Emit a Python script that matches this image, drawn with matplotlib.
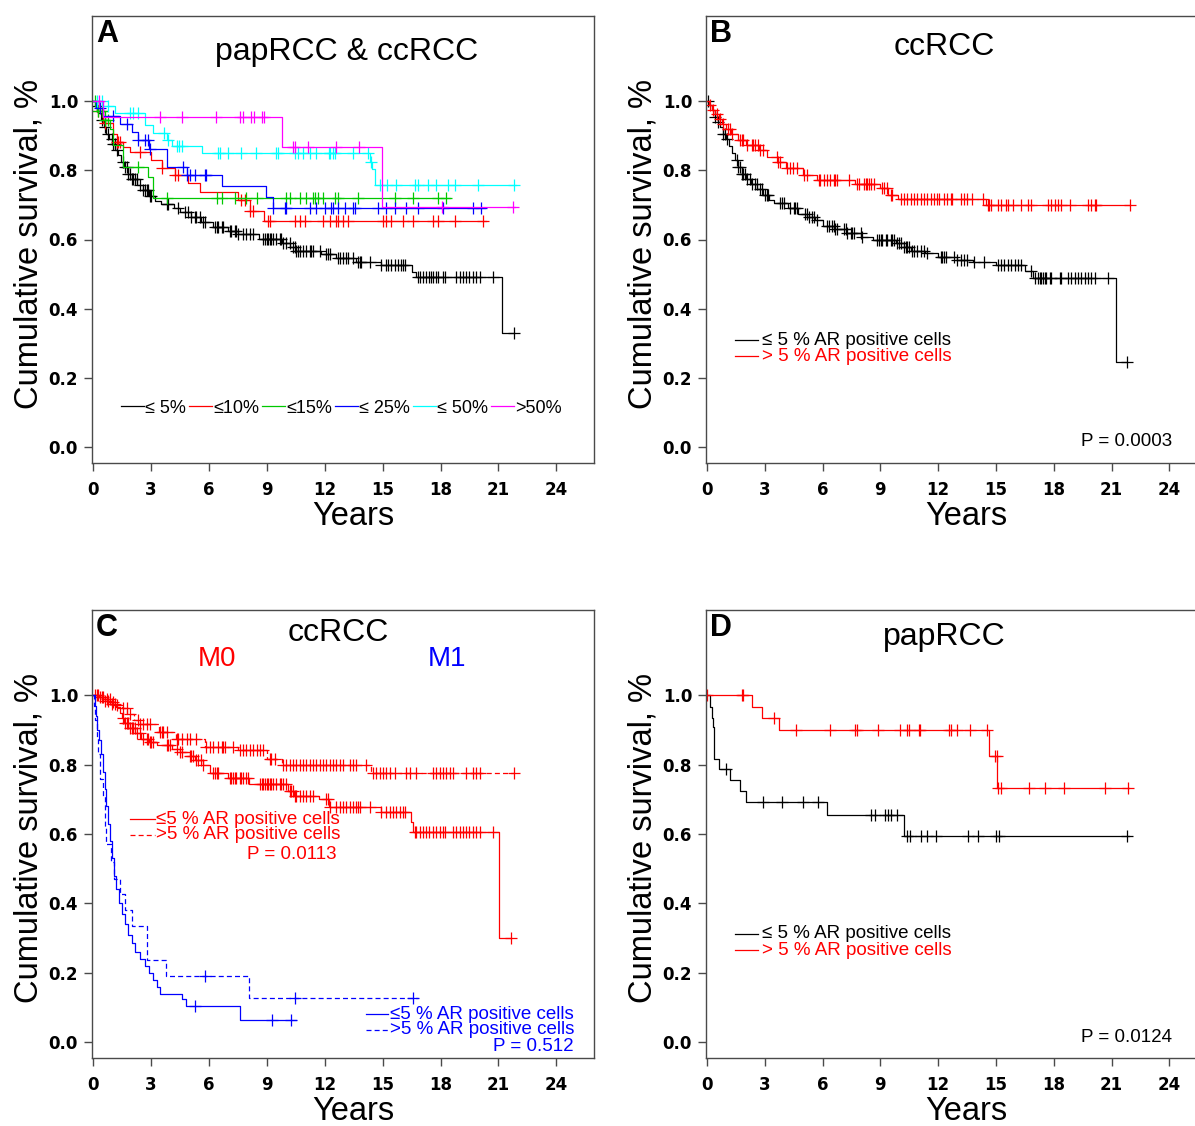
import numpy as np
import matplotlib
matplotlib.use("Agg")
import matplotlib.pyplot as plt

plt.rcParams["font.family"] = ["Liberation Sans", "DejaVu Sans"]

# ---------------- data (event times / survival after event, censor times) ----------------
# Panel A: papRCC & ccRCC by % AR positive cells
a_black_t = [0.1, 0.25, 0.4, 0.55, 0.7, 0.85, 1.0, 1.15, 1.3, 1.45, 1.6, 1.8, 2.0, 2.3, 2.6, 2.9,
             3.2, 3.5, 4.2, 4.5, 5.1, 5.6, 6.2, 7.0, 7.5, 8.6, 9.8, 10.2, 10.5, 11.8, 12.6, 13.6,
             14.9, 16.5, 16.75, 21.2]
a_black_s = [0.985, 0.965, 0.945, 0.925, 0.905, 0.89, 0.875, 0.86, 0.845, 0.825, 0.81, 0.79, 0.775,
             0.758, 0.743, 0.725, 0.712, 0.704, 0.692, 0.68, 0.665, 0.652, 0.637, 0.625, 0.615,
             0.601, 0.589, 0.578, 0.568, 0.558, 0.546, 0.536, 0.526, 0.507, 0.492, 0.33]
a_black_c = [0.19, 0.45, 0.62, 0.79, 0.97, 1.05, 1.14, 1.22, 1.57, 1.66, 1.74, 1.83, 1.91, 2.0,
             2.09, 2.17, 2.26, 2.43, 2.6, 2.69, 2.78, 2.86, 2.95, 3.03, 3.81, 3.9, 4.41, 4.76, 4.93,
             5.1, 5.28, 5.36, 5.53, 5.71, 5.79, 6.31, 6.4, 6.48, 6.66, 6.74, 7.09, 7.17, 7.35, 7.43,
             7.52, 7.78, 7.95, 8.12, 8.29, 8.81, 8.9, 8.99, 9.07, 9.16, 9.24, 9.33, 9.5, 9.67, 9.76,
             9.85, 10.02, 10.19, 10.36, 10.45, 10.54, 10.62, 10.71, 10.88, 11.05, 11.23, 11.31,
             11.4, 11.75, 12.09, 12.17, 12.26, 12.69, 12.78, 12.95, 13.12, 13.21, 13.47, 13.73,
             13.81, 13.9, 14.33, 14.94, 15.19, 15.28, 15.45, 15.62, 15.8, 15.97, 16.06, 16.14,
             16.83, 16.92, 17.09, 17.26, 17.43, 17.52, 17.61, 17.78, 17.86, 18.12, 18.21, 18.81,
             18.99, 19.16, 19.33, 19.5, 19.68, 19.85, 20.02, 20.71, 21.8]
a_black_end = 21.8

a_red_t = [0.19, 0.53, 1.05, 1.22, 1.57, 1.91, 3.03, 3.55, 4.24, 4.93, 5.53, 7.52, 8.12, 8.85]
a_red_s = [0.97, 0.937, 0.906, 0.882, 0.868, 0.853, 0.83, 0.808, 0.786, 0.762, 0.738, 0.714,
           0.683, 0.654]
a_red_c = [0.28, 0.45, 0.62, 1.22, 1.31, 1.4, 2.43, 3.55, 4.24, 4.41, 7.69, 7.86, 8.12, 8.29,
           9.07, 9.16, 10.45, 10.71, 10.97, 11.92, 12.26, 12.6, 12.69, 12.95, 13.21, 15.02, 15.19,
           15.45, 16.05, 16.57, 17.6, 17.86, 18.73, 20.2]
a_red_end = 20.37

a_green_t = [0.2, 0.6, 0.9, 1.05, 1.57, 2.86, 3.12]
a_green_s = [0.97, 0.945, 0.92, 0.873, 0.81, 0.781, 0.721]
a_green_c = [0.1, 0.28, 0.45, 0.62, 0.79, 2.35, 3.81, 6.4, 6.66, 7.35, 7.95, 8.47, 10.02, 10.19,
             10.71, 11.05, 11.4, 11.49, 11.66, 11.92, 12.52, 12.69, 13.73, 15.62, 16.57, 17.86,
             18.29]
a_green_end = 18.47

a_blue_t = [0.15, 0.5, 1.4, 2.0, 2.35, 2.9, 3.85, 4.85, 6.66, 8.98, 9.3]
a_blue_s = [0.98, 0.956, 0.935, 0.911, 0.887, 0.863, 0.81, 0.786, 0.754, 0.723, 0.69]
a_blue_c = [0.36, 1.05, 1.74, 2.35, 2.69, 2.86, 2.95, 4.67, 4.85, 5.02, 5.28, 5.79, 5.88, 9.33,
            9.93, 10.02, 11.23, 11.57, 12.0, 12.35, 12.43, 12.69, 13.04, 13.47, 13.55, 14.76,
            15.19, 15.62, 16.23, 16.83, 18.12, 19.68, 20.11]
a_blue_end = 20.28

a_cyan_t = [0.5, 1.14, 2.69, 3.12, 3.85, 4.07, 5.67, 14.33, 14.47, 14.59]
a_cyan_s = [0.985, 0.966, 0.93, 0.909, 0.889, 0.87, 0.849, 0.825, 0.805, 0.757]
a_cyan_c = [0.19, 0.45, 0.79, 1.91, 2.05, 2.35, 3.67, 3.9, 4.33, 4.47, 4.59, 6.48, 6.6, 7.0,
            7.69, 8.43, 9.5, 9.59, 10.45, 10.62, 10.88, 11.23, 11.57, 12.23, 12.3, 12.43, 12.52,
            13.47, 14.24, 14.42, 14.85, 15.24, 15.71, 16.66, 16.83, 17.35, 17.78, 18.38, 18.73,
            19.93, 21.83]
a_cyan_end = 21.9

a_mag_t = [0.53, 9.81, 14.99]
a_mag_s = [0.955, 0.868, 0.695]
a_mag_c = [0.33, 3.47, 4.59, 6.36, 7.64, 7.78, 8.21, 8.33, 8.73, 8.85, 10.36, 10.45, 11.14,
           12.6, 13.78, 18.1, 21.75]
a_mag_end = 21.85

a_labels = ["\u2264 5%", "\u226410%", "\u226415%", "\u2264 25%", "\u2264 50%", ">50%"]

# Panel B: ccRCC, <=5 % vs >5 % AR positive cells
b_black_t = [0.1, 0.25, 0.4, 0.55, 0.7, 0.85, 1.0, 1.15, 1.3, 1.45, 1.6, 1.8, 2.0, 2.3, 2.6, 2.9,
             3.2, 3.5, 4.2, 4.7, 5.2, 5.6, 6.0, 6.6, 7.2, 8.0, 8.6, 9.8, 10.2, 10.6, 11.3, 12.0,
             13.0, 13.8, 15.0, 16.5, 16.9, 21.25]
b_black_s = [0.99, 0.975, 0.955, 0.94, 0.925, 0.905, 0.89, 0.87, 0.85, 0.83, 0.81, 0.79, 0.775,
             0.76, 0.745, 0.73, 0.715, 0.705, 0.69, 0.675, 0.665, 0.655, 0.64, 0.63, 0.62, 0.608,
             0.598, 0.59, 0.578, 0.568, 0.56, 0.55, 0.54, 0.535, 0.526, 0.51, 0.49, 0.245]
b_black_c = [0.07, 0.42, 0.59, 0.85, 0.94, 1.02, 1.55, 1.63, 1.72, 1.81, 1.89, 1.98, 2.07, 2.24,
             2.33, 2.5, 2.59, 2.76, 2.85, 3.02, 3.11, 3.19, 3.8, 3.89, 3.98, 4.32, 4.5, 4.58, 4.67,
             5.1, 5.19, 5.28, 5.45, 5.54, 5.71, 6.23, 6.32, 6.49, 6.58, 6.67, 6.75, 7.1, 7.19,
             7.27, 7.45, 7.53, 7.62, 7.97, 8.06, 8.84, 8.92, 9.01, 9.1, 9.27, 9.36, 9.53, 9.62,
             9.71, 9.88, 9.97, 10.05, 10.23, 10.31, 10.4, 10.49, 10.66, 10.75, 10.92, 11.09,
             11.27, 11.44, 12.14, 12.22, 12.31, 12.4, 12.83, 13.0, 13.18, 13.35, 13.52, 13.87,
             14.39, 15.09, 15.26, 15.43, 15.61, 15.78, 15.96, 16.13, 16.3, 16.82, 17.0, 17.17,
             17.26, 17.34, 17.43, 17.52, 17.6, 17.78, 17.86, 18.3, 18.39, 18.73, 18.91, 19.08,
             19.25, 19.43, 19.6, 19.78, 19.95, 20.12, 20.82, 21.8]
b_black_end = 21.8

b_red_t = [0.1, 0.25, 0.4, 0.6, 0.8, 1.0, 1.25, 1.6, 2.0, 2.7, 3.1, 3.7, 4.1, 5.0, 5.7, 7.7, 9.0,
           9.4, 9.9, 14.5]
b_red_s = [0.99, 0.975, 0.962, 0.948, 0.935, 0.92, 0.905, 0.887, 0.873, 0.859, 0.839, 0.825,
           0.806, 0.787, 0.772, 0.76, 0.748, 0.728, 0.718, 0.699]
b_red_c = [0.16, 0.33, 0.5, 0.68, 0.85, 1.11, 1.2, 1.29, 1.72, 1.81, 1.89, 2.07, 2.33, 2.41, 2.5,
           2.67, 2.76, 2.93, 3.63, 3.71, 3.8, 4.15, 4.32, 4.49, 4.67, 5.02, 5.19, 5.8, 5.89, 6.06,
           6.23, 6.41, 6.58, 6.67, 6.76, 7.36, 7.8, 7.88, 8.14, 8.23, 8.32, 8.4, 8.49, 8.66, 9.1,
           9.18, 9.36, 9.53, 9.62, 10.05, 10.23, 10.4, 10.57, 10.75, 10.92, 11.09, 11.27, 11.44,
           11.61, 11.79, 11.96, 12.05, 12.31, 12.48, 12.66, 12.74, 13.18, 13.35, 13.52, 13.78,
           14.3, 14.57, 14.65, 14.74, 15.09, 15.26, 15.52, 15.61, 15.87, 16.3, 16.65, 16.82,
           17.7, 17.86, 18.04, 18.21, 18.39, 18.82, 19.78, 19.95, 20.12, 20.21, 21.94]
b_red_end = 21.94

# Panel C: ccRCC split by M0 (red) and M1 (blue)
c_m0_low_t = [0.3, 0.6, 0.9, 1.2, 1.4, 1.5, 1.6, 1.9, 2.2, 2.5, 2.9, 3.3, 4.1, 4.5, 5.0, 5.3, 5.7,
              6.05, 7.0, 8.1, 10.1, 10.4, 11.7, 12.2, 14.9, 16.45, 16.55, 21.05]
c_m0_low_s = [0.995, 0.985, 0.975, 0.965, 0.95, 0.935, 0.92, 0.905, 0.89, 0.875, 0.865, 0.856,
              0.845, 0.837, 0.825, 0.813, 0.8, 0.775, 0.762, 0.743, 0.725, 0.71, 0.7, 0.677,
              0.663, 0.634, 0.605, 0.30]
c_m0_low_c = [0.1, 0.28, 0.45, 0.62, 0.79, 0.97, 1.14, 1.57, 1.66, 1.74, 1.83, 1.91, 2.0, 2.09,
              2.17, 2.26, 2.43, 2.6, 2.78, 2.86, 2.95, 3.03, 3.12, 3.81, 3.9, 3.98, 4.33, 4.5,
              4.59, 5.02, 5.1, 5.19, 5.36, 5.45, 5.62, 5.71, 6.22, 6.31, 6.4, 6.48, 7.09, 7.17,
              7.26, 7.35, 7.43, 7.6, 7.69, 7.78, 7.95, 8.04, 8.64, 8.73, 8.81, 8.9, 8.99, 9.07,
              9.16, 9.24, 9.33, 9.5, 9.67, 9.76, 9.85, 10.02, 10.19, 10.28, 10.36, 10.45, 10.54,
              10.71, 10.88, 11.05, 11.23, 11.4, 12.09, 12.17, 12.26, 12.6, 12.78, 12.95, 13.12,
              13.3, 13.47, 13.64, 13.73, 13.81, 14.33, 14.94, 15.19, 15.37, 15.54, 15.71, 15.88,
              16.06, 16.14, 16.66, 16.75, 16.92, 17.09, 17.26, 17.43, 17.61, 17.78, 17.95, 18.12,
              18.21, 18.64, 18.81, 18.99, 19.16, 19.33, 19.5, 19.68, 19.85, 20.02, 20.71, 21.66]
c_m0_low_end = 21.66

c_m0_high_t = [0.3, 0.6, 0.9, 1.2, 1.5, 1.75, 2.1, 2.43, 3.4, 4.3, 5.8, 7.5, 9.0, 9.8, 14.4]
c_m0_high_s = [0.995, 0.99, 0.982, 0.973, 0.962, 0.947, 0.93, 0.918, 0.894, 0.875, 0.85, 0.841,
               0.817, 0.798, 0.776]
c_m0_high_c = [0.19, 0.36, 0.53, 0.71, 0.88, 1.05, 1.22, 1.57, 1.74, 1.91, 2.35, 2.43, 2.6, 2.78,
               2.95, 3.47, 3.55, 3.64, 3.81, 4.33, 4.41, 4.59, 4.85, 5.02, 5.36, 5.88, 6.05, 6.22,
               6.48, 6.66, 6.74, 6.83, 7.26, 7.6, 7.78, 7.95, 8.12, 8.29, 8.47, 8.64, 8.81, 9.16,
               9.24, 9.42, 9.85, 10.02, 10.19, 10.36, 10.54, 10.71, 10.88, 11.05, 11.23, 11.4,
               11.57, 11.75, 11.92, 12.09, 12.26, 12.43, 12.6, 12.78, 12.95, 13.3, 13.47, 13.64,
               14.16, 14.5, 14.68, 14.85, 15.02, 15.19, 15.37, 15.62, 16.23, 16.4, 16.75, 17.61,
               17.78, 17.95, 18.12, 18.3, 18.47, 18.64, 19.33, 19.68, 19.85, 20.02, 21.83]
c_m0_high_end = 21.83

c_m1_low_t = [0.08, 0.15, 0.22, 0.3, 0.4, 0.5, 0.6, 0.7, 0.8, 0.9, 1.0, 1.1, 1.2, 1.35, 1.5, 1.65,
              1.8, 2.0, 2.2, 2.45, 2.7, 2.9, 3.1, 3.3, 3.45, 4.6, 4.8, 7.6]
c_m1_low_s = [0.97, 0.94, 0.9, 0.87, 0.83, 0.78, 0.73, 0.68, 0.63, 0.58, 0.53, 0.48, 0.44, 0.4,
              0.37, 0.34, 0.31, 0.285, 0.26, 0.24, 0.22, 0.2, 0.18, 0.16, 0.14, 0.123, 0.104,
              0.063]
c_m1_low_c = [5.28, 9.29, 10.28]
c_m1_low_end = 10.54

c_m1_high_t = [0.05, 0.12, 0.2, 0.28, 0.38, 0.5, 0.6, 0.7, 0.95, 1.1, 1.4, 1.65, 2.0, 2.78, 3.8,
               8.1]
c_m1_high_s = [0.97, 0.93, 0.88, 0.83, 0.76, 0.71, 0.62, 0.57, 0.52, 0.47, 0.428, 0.38, 0.334,
               0.238, 0.19, 0.128]
c_m1_high_c = [5.79, 10.45, 16.57]
c_m1_high_end = 16.83

# Panel D: papRCC
d_black_t = [0.17, 0.25, 0.3, 0.35, 0.38, 0.6, 1.2, 1.7, 2.0, 6.23, 10.2]
d_black_s = [0.966, 0.935, 0.909, 0.86, 0.817, 0.788, 0.757, 0.724, 0.692, 0.654, 0.594]
d_black_c = [0.99, 2.93, 3.89, 4.98, 5.76, 8.49, 8.7, 9.22, 9.39, 9.57, 9.84, 10.4, 10.54, 11.1,
             11.41, 11.88, 13.56, 14.05, 15.0, 15.14, 21.82]
d_black_end = 21.9

d_red_t = [2.33, 2.85, 3.75, 14.65, 15.05]
d_red_s = [0.966, 0.934, 0.9, 0.826, 0.734]
d_red_c = [0.02, 1.81, 1.89, 3.49, 4.62, 6.37, 7.66, 7.8, 8.89, 10.02, 10.37, 10.5, 11.0, 11.06,
           12.57, 12.64, 13.0, 13.66, 14.52, 14.97, 15.04, 15.09, 15.26, 16.7, 17.52, 18.51,
           20.64, 21.86]
d_red_end = 21.9

x_ticks = [0, 3, 6, 9, 12, 15, 18, 21, 24]
y_ticks = [0.0, 0.2, 0.4, 0.6, 0.8, 1.0]

RED = "#ff0000"
GREEN = "#00c800"
BLUE = "#0000ff"
CYAN = "#00ffff"
MAGENTA = "#ff00ff"
FRAME = "#4a4a4a"


def km(ax, ev_t, ev_s, cens, end, color, dashed=False, label=None):
    ev_t = np.asarray(ev_t)
    ev_s = np.asarray(ev_s)
    xs = np.r_[0.0, ev_t, end]
    ys = np.r_[1.0, ev_s, ev_s[-1]]
    ls = (0, (4, 2.5)) if dashed else "-"
    (line,) = ax.step(xs, ys, where="post", color=color, lw=0.9, ls=ls, label=label)
    idx = np.searchsorted(ev_t, cens, side="right")
    ax.plot(cens, np.r_[1.0, ev_s][idx], ls="none", marker="+", ms=8, mew=0.9, color=color)
    return line


def style(ax, letter, title, title_xy, title_size=23):
    ax.set_xlim(-0.05, 25.95)
    ax.set_ylim(-0.046, 1.246)
    ax.set_xticks(x_ticks)
    ax.set_xticklabels([str(v) for v in x_ticks], fontweight="bold", family="DejaVu Sans",
                       fontsize=12)
    ax.set_yticks(y_ticks)
    ax.set_yticklabels([f"{v:.1f}" for v in y_ticks], fontweight="bold", family="DejaVu Sans",
                       fontsize=12)
    ax.tick_params(direction="out", length=6, width=1, color=FRAME)
    ax.tick_params(axis="x", pad=7)
    ax.tick_params(axis="y", pad=4)
    for sp in ax.spines.values():
        sp.set_color(FRAME)
        sp.set_linewidth(1)
    ax.set_xlabel("Years", fontsize=23.5)
    ax.xaxis.set_label_coords(0.52, -0.12)
    ax.xaxis.label.set_va("center")
    ax.set_ylabel("Cumulative survival, %", fontsize=23.5)
    ax.yaxis.set_label_coords(-0.125, 0.49)
    ax.yaxis.label.set_va("center")
    ax.text(0.008, 0.993, letter, transform=ax.transAxes, ha="left", va="top",
            fontsize=22, fontweight="bold")
    ax.text(title_xy[0], title_xy[1], title, transform=ax.transAxes, ha="center",
            va="center", fontsize=title_size)


def legend_rows(ax, rows, x_line, x_text, ha="left", size=13.5):
    for y, color, dashed, text in rows:
        if dashed is not None:
            ax.plot(x_line, [y, y], transform=ax.transAxes, color=color, lw=0.9,
                    ls=(0, (4, 2.5)) if dashed else "-")
        ax.text(x_text, y, text, transform=ax.transAxes, ha=ha, va="center",
                color=color, fontsize=size)


W, H = 1195, 1126
fig = plt.figure(figsize=(W / 100, H / 100), dpi=100)


def box(left, top, right, bottom):
    return [left / W, (H - bottom) / H, (right - left) / W, (bottom - top) / H]


ax_a = fig.add_axes(box(92, 16, 594, 463))
ax_b = fig.add_axes(box(706, 16, 1207, 463))
ax_c = fig.add_axes(box(92, 610, 594, 1058))
ax_d = fig.add_axes(box(706, 610, 1207, 1058))

# ---- A ----
lines = [
    km(ax_a, a_black_t, a_black_s, a_black_c, a_black_end, "black"),
    km(ax_a, a_red_t, a_red_s, a_red_c, a_red_end, RED),
    km(ax_a, a_green_t, a_green_s, a_green_c, a_green_end, GREEN),
    km(ax_a, a_blue_t, a_blue_s, a_blue_c, a_blue_end, BLUE),
    km(ax_a, a_cyan_t, a_cyan_s, a_cyan_c, a_cyan_end, CYAN),
    km(ax_a, a_mag_t, a_mag_s, a_mag_c, a_mag_end, MAGENTA),
]
style(ax_a, "A", "papRCC & ccRCC", (0.508, 0.919))
ax_a.legend(lines, a_labels, ncol=6, frameon=False, loc="center",
            bbox_to_anchor=(0.497, 0.123), handlelength=1.25, handletextpad=0.1,
            columnspacing=0.15, fontsize=13, borderaxespad=0)

# ---- B ----
km(ax_b, b_black_t, b_black_s, b_black_c, b_black_end, "black")
km(ax_b, b_red_t, b_red_s, b_red_c, b_red_end, RED)
style(ax_b, "B", "ccRCC", (0.475, 0.931))
legend_rows(ax_b, [(0.275, "black", False, "\u2264 5 % AR positive cells"),
                   (0.239, RED, False, "> 5 % AR positive cells")],
            [0.058, 0.104], 0.112)
ax_b.text(0.93, 0.049, "P = 0.0003", transform=ax_b.transAxes, ha="right", va="center",
          fontsize=13.5)

# ---- C ----
km(ax_c, c_m0_low_t, c_m0_low_s, c_m0_low_c, c_m0_low_end, RED)
km(ax_c, c_m0_high_t, c_m0_high_s, c_m0_high_c, c_m0_high_end, RED, dashed=True)
km(ax_c, c_m1_low_t, c_m1_low_s, c_m1_low_c, c_m1_low_end, BLUE)
km(ax_c, c_m1_high_t, c_m1_high_s, c_m1_high_c, c_m1_high_end, BLUE, dashed=True)
style(ax_c, "C", "ccRCC", (0.49, 0.949))
ax_c.text(0.249, 0.891, "M0", transform=ax_c.transAxes, ha="center", va="center",
          color=RED, fontsize=20)
ax_c.text(0.707, 0.891, "M1", transform=ax_c.transAxes, ha="center", va="center",
          color=BLUE, fontsize=20)
legend_rows(ax_c, [(0.533, RED, False, "\u22645 % AR positive cells"),
                   (0.498, RED, True, ">5 % AR positive cells")],
            [0.076, 0.125], 0.127)
ax_c.text(0.488, 0.455, "P = 0.0113", transform=ax_c.transAxes, ha="right", va="center",
          color=RED, fontsize=13.5)
legend_rows(ax_c, [(0.098, BLUE, False, "\u22645 % AR positive cells"),
                   (0.0625, BLUE, True, ">5 % AR positive cells"),
                   (0.025, BLUE, None, "P = 0.512")],
            [0.545, 0.59], 0.96, ha="right")

# ---- D ----
km(ax_d, d_black_t, d_black_s, d_black_c, d_black_end, "black")
km(ax_d, d_red_t, d_red_s, d_red_c, d_red_end, RED)
style(ax_d, "D", "papRCC", (0.475, 0.94))
legend_rows(ax_d, [(0.277, "black", False, "\u2264 5 % AR positive cells"),
                   (0.241, RED, False, "> 5 % AR positive cells")],
            [0.058, 0.104], 0.112)
ax_d.text(0.93, 0.045, "P = 0.0124", transform=ax_d.transAxes, ha="right", va="center",
          fontsize=13.5)

fig.savefig("out.png", dpi=100)
